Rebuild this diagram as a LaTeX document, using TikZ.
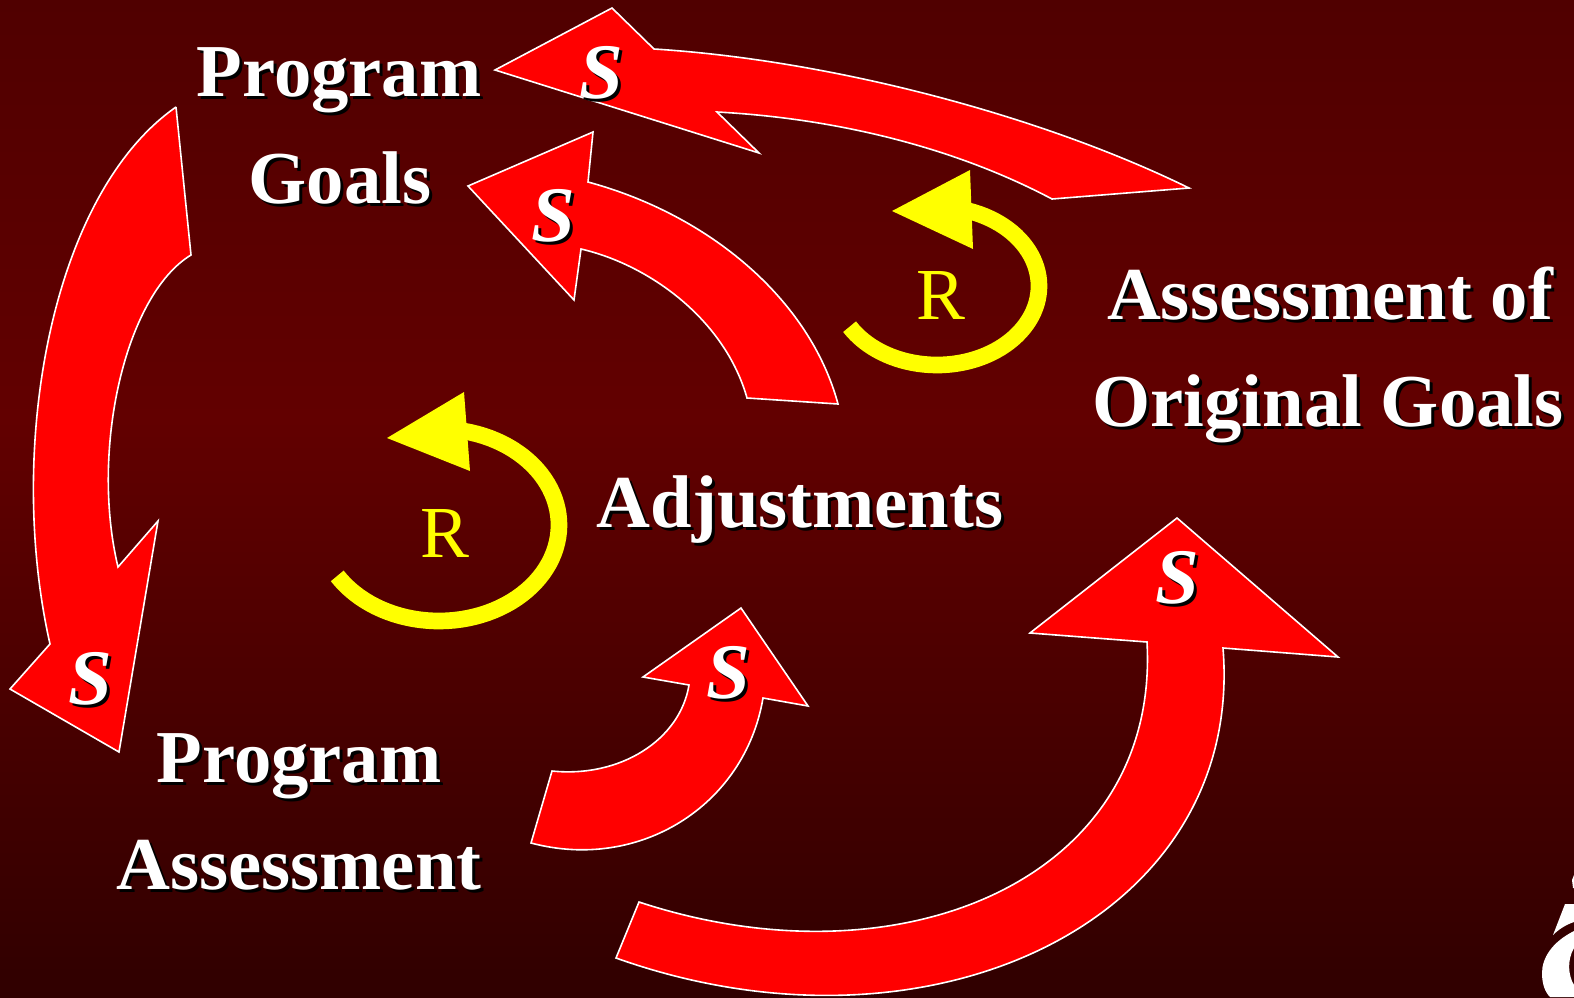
\documentclass[tikz,border=0pt]{standalone}
\usepackage{fontspec}
\setmainfont{Liberation Serif}
\definecolor{arrowred}{RGB}{255,0,0}
\definecolor{arcyellow}{RGB}{255,255,0}
\definecolor{bgtop}{RGB}{80,0,0}
\definecolor{bgmid}{RGB}{98,0,0}
\definecolor{bgbot}{RGB}{48,0,0}
\newcommand{\shadowtext}[4]{%
  \node[lbl,text=black] at (#1+3,#2+3) {#3};
  \node[lbl,text=white] (#4) at (#1,#2) {#3};}
\newcommand{\esmark}[3]{%
  \node[slbl,text=black] at (#1+3,#2+3) {S};
  \node[slbl,text=white] (#3) at (#1,#2) {S};}
\tikzset{
  x=0.75pt,y=-0.75pt,
  redarrow/.style={fill=arrowred,draw=white,line width=1.2pt,line join=miter},
  yarc/.style={draw=arcyellow,line width=12.5pt},
  yhead/.style={fill=arcyellow,draw=none},
  lbl/.style={font=\fontsize{56}{60}\selectfont\bfseries,inner sep=0pt,anchor=base},
  slbl/.style={font=\fontsize{59}{60}\selectfont\bfseries\itshape,inner sep=0pt,anchor=base},
  rlbl/.style={font=\fontsize{55}{60}\selectfont,text=arcyellow,inner sep=0pt,anchor=base},
}
\begin{document}
\begin{tikzpicture}
\useasboundingbox (0,0) rectangle (1574,997);
\clip (0,0) rectangle (1574,997);
\shade[top color=bgtop,bottom color=bgmid] (0,0) rectangle (1574,420);
\shade[top color=bgmid,bottom color=bgbot] (0,419) rectangle (1574,997);
% logo fragment
\fill[white] (1565,904) -- (1574,904) -- (1574,922) .. controls (1565,925) and (1558,930) .. (1553,935) -- cycle;
\fill[white] (1574,931) .. controls (1552,942) and (1542,958) .. (1542,973) .. controls (1542,984) and (1545,992) .. (1550,997) -- (1574,997) -- (1574,985) .. controls (1568,975) and (1567,960) .. (1574,948) -- cycle;
\fill[white] (1574,875) -- (1572,880) -- (1573,888) -- (1574,888) -- cycle;
% top arrow
\draw[redarrow] (495,70) -- (612,8) -- (654,49)
  .. controls (830,60) and (1040,115) .. (1189,188) -- (1052,199)
  .. controls (950,145) and (830,118) .. (717,112) -- (759,153) -- cycle;
% second arrow
\draw[redarrow] (468,186) -- (593,132) -- (588,182)
  .. controls (710,215) and (810,300) .. (838,404) -- (747,398)
  .. controls (725,320) and (650,265) .. (581,249) -- (574,300) -- cycle;
% left arrow
\draw[redarrow] (176,107) -- (191,255)
  .. controls (125,295) and (90,450) .. (118,567) -- (158,521) -- (119,752) -- (10,689) -- (50,644)
  .. controls (6,450) and (50,195) .. (176,107);
% lower middle arrow
\draw[redarrow] (531,843) -- (552,771)
  .. controls (620,778) and (680,740) .. (689,685) -- (643,677) -- (741,608) -- (808,706) -- (763,698)
  .. controls (745,805) and (640,872) .. (531,843) -- cycle;
% big arrow
\draw[redarrow] (616,958) -- (639,902)
  .. controls (900,988) and (1160,880) .. (1147,642) -- (1030,633) -- (1177,518) -- (1338,657) -- (1223,648)
  .. controls (1245,920) and (930,1070) .. (616,958) -- cycle;
% yellow arcs
\draw[yarc] plot[domain=149:-75,samples=70] ({937+102*cos(\x)},{286+79*sin(\x)});
\fill[yhead] (892,211) -- (970,170) -- (973,249) -- cycle;
\draw[yarc] plot[domain=148:-78,samples=70] ({439+120*cos(\x)},{525+96*sin(\x)});
\fill[yhead] (387,438) -- (464,392) -- (470,471) -- cycle;
% labels
\shadowtext{339}{96}{Program}{pg1}
\shadowtext{340}{203}{Goals}{pg2}
\shadowtext{1330}{319}{Assessment of}{ao1}
\shadowtext{1328}{426}{Original Goals}{ao2}
\shadowtext{800}{527}{Adjustments}{adj}
\shadowtext{299}{782}{Program}{pa1}
\shadowtext{299}{889}{Assessment}{pa2}
\esmark{601}{98}{s1}
\esmark{553}{241}{s2}
\esmark{90}{704}{s3}
\esmark{728}{698}{s4}
\esmark{1177}{603}{s5}
\node[rlbl] (r1) at (941,319) {R};
\node[rlbl] (r2) at (445,557) {R};
\end{tikzpicture}
\end{document}
